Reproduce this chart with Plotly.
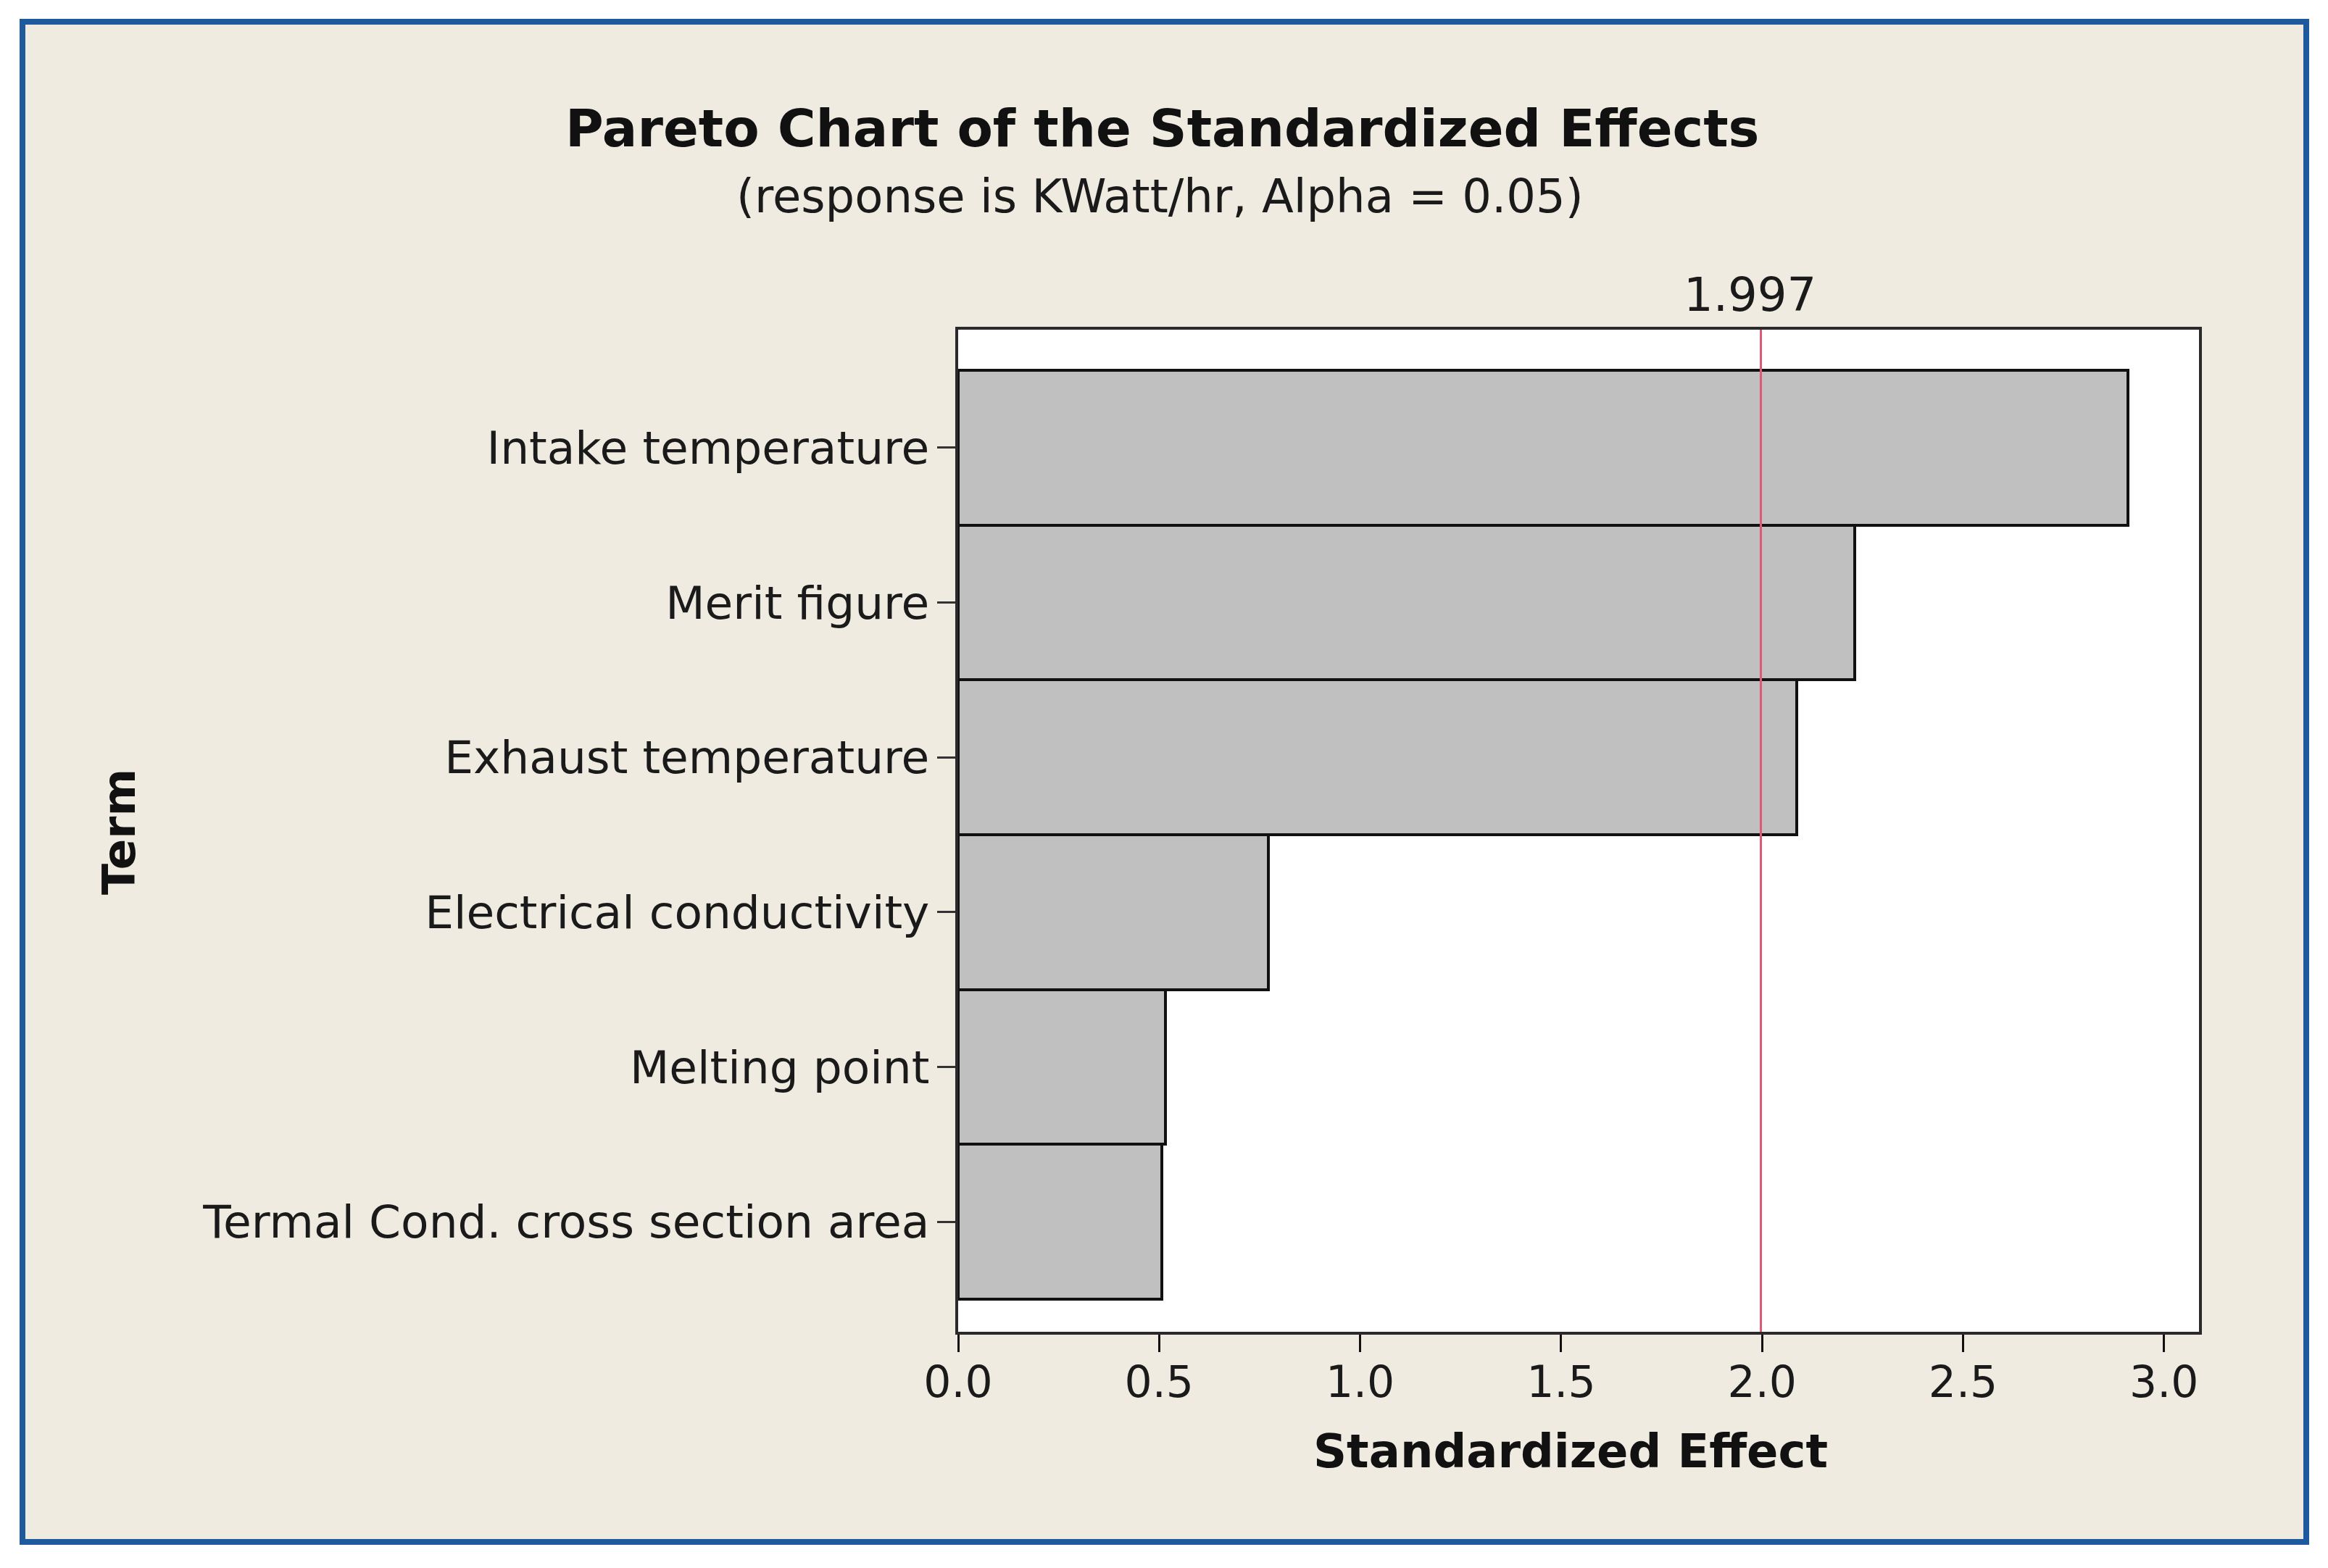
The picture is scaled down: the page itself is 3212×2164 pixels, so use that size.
import plotly.graph_objects as go

# ---- data ----
terms = [
    "Intake temperature",
    "Merit figure",
    "Exhaust temperature",
    "Electrical conductivity",
    "Melting point",
    "Termal Cond. cross section area",
]
effects = [2.91, 2.23, 2.086, 0.772, 0.516, 0.507]
critical_value = 1.997
x_tickvals = [0.0, 0.5, 1.0, 1.5, 2.0, 2.5, 3.0]
x_ticktext = ["0.0", "0.5", "1.0", "1.5", "2.0", "2.5", "3.0"]

title_text = "Pareto Chart of the Standardized Effects"
subtitle_text = "(response is KWatt/hr, Alpha = 0.05)"
x_title = "Standardized Effect"
y_title = "Term"

W, H = 3212, 2164
OFF = 8  # page body margin offset
L, T = 1322 - OFF, 455 - OFF
R, B = W - (3034 - OFF), H - (1838 - OFF)
pw, ph = W - L - R, H - T - B


def px_x(p):
    return (p - OFF - L) / pw


def px_y(p):
    return (H - B - (p - OFF)) / ph


FONT = "DejaVu Sans"
TXT = "#1a1a1a"

fig = go.Figure()
fig.add_trace(go.Bar(
    x=effects, y=terms, orientation="h",
    marker=dict(color="#C0C0C0", line=dict(color="#111111", width=4)),
    showlegend=False,
))

fig.update_layout(
    width=W, height=H,
    margin=dict(l=L, r=R, t=T, b=B, pad=0),
    paper_bgcolor="white",
    plot_bgcolor="white",
    bargap=0,
    font=dict(family=FONT, color=TXT, size=62),
    xaxis=dict(
        range=[0, 3.087], tickvals=x_tickvals, ticktext=x_ticktext,
        showgrid=False, zeroline=False,
        showline=True, mirror=True, linecolor="#2a2a2a", linewidth=4,
        ticks="outside", ticklen=24, tickwidth=3, tickcolor="#111111",
        tickfont=dict(family=FONT, size=60, color=TXT),
        ticklabelstandoff=-10,
    ),
    yaxis=dict(
        range=[5.71, -0.762], type="category",
        showgrid=False, zeroline=False,
        showline=True, mirror=True, linecolor="#2a2a2a", linewidth=4,
        ticks="outside", ticklen=25, tickwidth=3, tickcolor="#333333",
        tickfont=dict(family=FONT, size=63, color=TXT),
        ticklabelstandoff=-2,
    ),
)

# background panel with blue frame
fig.add_shape(
    type="rect", xref="paper", yref="paper", layer="below",
    x0=px_x(31), x1=px_x(3182), y0=px_y(2128), y1=px_y(30),
    fillcolor="#EFEBE1", line=dict(color="#1F5A9E", width=8),
)
# white plotting area
fig.add_shape(
    type="rect", xref="paper", yref="paper", layer="below",
    x0=0, x1=1, y0=0, y1=1,
    fillcolor="white", line=dict(width=0),
)

# critical value line
fig.add_shape(
    type="line", xref="x", yref="paper",
    x0=critical_value, x1=critical_value, y0=0, y1=1,
    line=dict(color="#DC5A72", width=3), layer="above",
)

fig.add_annotation(
    text=f"{critical_value:.3f}", xref="x", yref="paper",
    x=critical_value, y=px_y(407), xanchor="center", yanchor="middle",
    xshift=-15, showarrow=False,
    font=dict(family=FONT, size=64, color=TXT),
)
fig.add_annotation(
    text=f"<b>{title_text}</b>", xref="paper", yref="paper",
    x=px_x(1603), y=px_y(177), xanchor="center", yanchor="middle",
    showarrow=False, font=dict(family=FONT, size=72, color="#111111"),
)
fig.add_annotation(
    text=subtitle_text, xref="paper", yref="paper",
    x=px_x(1600), y=px_y(271), xanchor="center", yanchor="middle",
    showarrow=False, font=dict(family=FONT, size=64, color=TXT),
)
fig.add_annotation(
    text=f"<b>{x_title}</b>", xref="paper", yref="paper",
    x=px_x(2167), y=px_y(2003), xanchor="center", yanchor="middle",
    showarrow=False, font=dict(family=FONT, size=64, color="#111111"),
)
fig.add_annotation(
    text=f"<b>{y_title}</b>", xref="paper", yref="paper",
    x=px_x(164), y=px_y(1148), xanchor="center", yanchor="middle",
    textangle=-90, showarrow=False,
    font=dict(family=FONT, size=63, color="#111111"),
)

fig.write_html("out.html")
